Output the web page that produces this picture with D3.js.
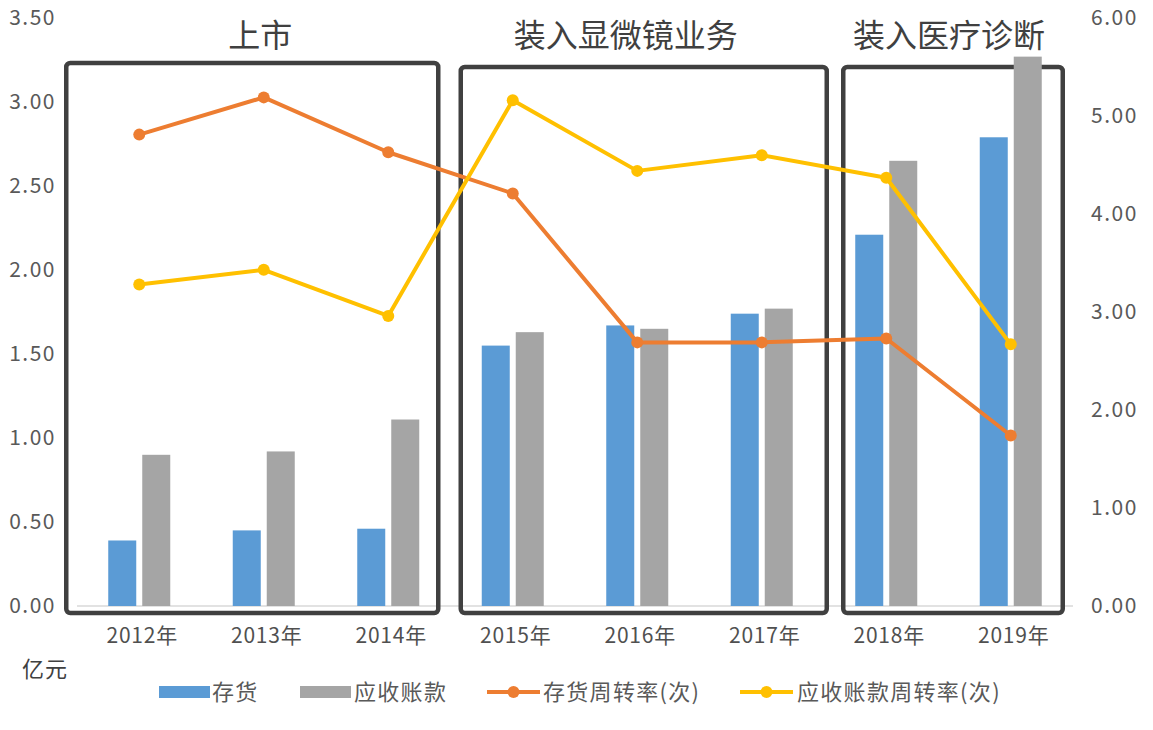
<!DOCTYPE html>
<html><head><meta charset="utf-8">
<script src="https://cdn.jsdelivr.net/npm/d3@7"></script>
<style>body{margin:0;background:#fff}svg{display:block}</style>
</head><body>
<script>
const categories = ["2012年","2013年","2014年","2015年","2016年","2017年","2018年","2019年"];
const inventory = [0.39,0.45,0.46,1.55,1.67,1.74,2.21,2.79];        // 存货 (亿元)
const receivables = [0.90,0.92,1.11,1.63,1.65,1.77,2.65,3.27];      // 应收账款 (亿元)
const invTurnover = [4.81,5.19,4.63,4.21,2.69,2.69,2.73,1.74];      // 存货周转率(次)
const recTurnover = [3.28,3.43,2.96,5.16,4.44,4.60,4.37,2.67];      // 应收账款周转率(次)
const leftTicks = [0,0.5,1,1.5,2,2.5,3,3.5];
const rightTicks = [0,1,2,3,4,5,6];
const phaseTitles = ["上市","装入显微镜业务","装入医疗诊断"];
const phaseStart = [0,3,6];
const phaseEnd = [2,5,7];
const legendLabels = ["存货","应收账款","存货周转率(次)","应收账款周转率(次)"];

const W=1153,H=730;
const colors={blue:"#5B9BD5",gray:"#A5A5A5",orange:"#ED7D31",yellow:"#FFC000",box:"#404040",text:"#595959"};
const font='"Microsoft YaHei","Noto Sans CJK SC","Noto Sans",sans-serif';
const svg=d3.select("body").append("svg").attr("width",W).attr("height",H).style("font-family",font);

const x=d3.scaleBand().domain(categories).range([77,1073]).padding(0);
const yL=d3.scaleLinear().domain([0,3.5]).range([606,18]);
const yR=d3.scaleLinear().domain([0,6]).range([606,18]);
const cx=i=>x(categories[i])+x.bandwidth()/2;

// baseline
svg.append("line").attr("x1",77).attr("x2",1073).attr("y1",yL(0)).attr("y2",yL(0)).attr("stroke","#D9D9D9").attr("stroke-width",1.5);

// left axis
const gL=svg.append("g").attr("transform","translate(56,0)")
  .call(d3.axisLeft(yL).tickValues(leftTicks).tickSize(0).tickPadding(0).tickFormat(d3.format(".2f")));
gL.select(".domain").remove();
gL.selectAll("text").attr("fill",colors.text).style("font-size","21px").style("letter-spacing","1.5px").style("font-family",font);
// right axis
const gR=svg.append("g").attr("transform","translate(1091,0)")
  .call(d3.axisRight(yR).tickValues(rightTicks).tickSize(0).tickPadding(0).tickFormat(d3.format(".2f")));
gR.select(".domain").remove();
gR.selectAll("text").attr("fill",colors.text).style("font-size","21px").style("letter-spacing","1.5px").style("font-family",font);
// x axis
const gX=svg.append("g").attr("transform","translate(0,628)")
  .call(d3.axisBottom(x).tickSize(0).tickPadding(0));
gX.select(".domain").remove();
gX.selectAll("text").attr("fill","#505050").style("font-size","21px").style("letter-spacing","0.8px").style("font-family",font).attr("dx","3");

// phase boxes
const boxPad=[[-73,50],[-52,65],[-43,52]];
const boxTop=[63,67,67];
const titleShift=[8,-18,-4];
phaseTitles.forEach((t,k)=>{
  const l=cx(phaseStart[k])+boxPad[k][0], r=cx(phaseEnd[k])+boxPad[k][1];
  svg.append("rect").attr("x",l).attr("y",boxTop[k]).attr("width",r-l).attr("height",613-boxTop[k])
    .attr("rx",4).attr("fill","none").attr("stroke",colors.box).attr("stroke-width",4.5);
  svg.append("text").attr("x",(l+r)/2+titleShift[k]).attr("y",47).attr("text-anchor","middle")
    .attr("fill","#404040").style("font-size","32px").text(t);
});

// bars
const bw=28,gap=3;
svg.append("g").selectAll("rect").data(inventory).join("rect")
  .attr("x",(d,i)=>cx(i)-gap-bw).attr("width",bw).attr("y",d=>yL(d)).attr("height",d=>yL(0)-yL(d)).attr("fill",colors.blue);
svg.append("g").selectAll("rect").data(receivables).join("rect")
  .attr("x",(d,i)=>cx(i)+gap).attr("width",bw).attr("y",d=>yL(d)).attr("height",d=>yL(0)-yL(d)).attr("fill",colors.gray);

// lines
function drawLine(vals,col){
  const line=d3.line().x((d,i)=>cx(i)).y(d=>yR(d));
  svg.append("path").datum(vals).attr("d",line).attr("fill","none").attr("stroke",col).attr("stroke-width",4).attr("stroke-linejoin","round");
  svg.append("g").selectAll("circle").data(vals).join("circle").attr("cx",(d,i)=>cx(i)).attr("cy",d=>yR(d)).attr("r",6).attr("fill",col);
}
drawLine(invTurnover,colors.orange);
drawLine(recTurnover,colors.yellow);

// unit
svg.append("text").attr("x",22).attr("y",677).attr("fill","#404040").style("font-size","22px").style("letter-spacing","1px").text("亿元");

// legend
const ly=692;
const lg=svg.append("g");
const items=[
  {type:"rect",col:colors.blue,x0:159,tx:212},
  {type:"rect",col:colors.gray,x0:300,tx:354},
  {type:"line",col:colors.orange,x0:487,tx:543},
  {type:"line",col:colors.yellow,x0:740,tx:797}
];
items.forEach((it,k)=>{
  if(it.type==="rect"){
    lg.append("rect").attr("x",it.x0).attr("y",ly-6).attr("width",51).attr("height",12).attr("fill",it.col);
  } else {
    lg.append("line").attr("x1",it.x0).attr("x2",it.x0+53).attr("y1",ly).attr("y2",ly).attr("stroke",it.col).attr("stroke-width",4);
    lg.append("circle").attr("cx",it.x0+26.5).attr("cy",ly).attr("r",6).attr("fill",it.col);
  }
  lg.append("text").attr("x",it.tx).attr("y",ly+8).attr("fill",colors.text).style("font-size","22px").style("letter-spacing","1.3px").text(legendLabels[k]);
});
</script>
</body></html>
